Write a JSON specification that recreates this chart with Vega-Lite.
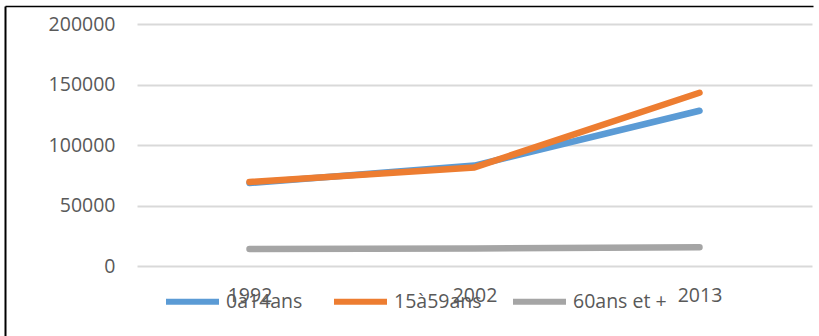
{
  "$schema": "https://vega.github.io/schema/vega-lite/v6.json",
  "autosize": "none",
  "width": 808,
  "height": 330,
  "padding": {"left": 5, "top": 6, "right": 6, "bottom": 0},
  "background": "white",
  "title": {"text": "Fig", "anchor": "start", "frame": "group", "dx": 19, "offset": 6, "baseline": "alphabetic", "fontSize": 20, "fontWeight": "normal", "font": "Open Sans", "color": "black"},
  "config": {
    "view": {"stroke": null},
    "font": "Open Sans"
  },
  "data": {
    "values": [
      {"annee": "1992", "serie": "0à14ans", "valeur": 68600},
      {"annee": "2002", "serie": "0à14ans", "valeur": 83000},
      {"annee": "2013", "serie": "0à14ans", "valeur": 128300},
      {"annee": "1992", "serie": "15à59ans", "valeur": 69400},
      {"annee": "2002", "serie": "15à59ans", "valeur": 81500},
      {"annee": "2013", "serie": "15à59ans", "valeur": 143200},
      {"annee": "1992", "serie": "60ans et +", "valeur": 14050},
      {"annee": "2002", "serie": "60ans et +", "valeur": 14500},
      {"annee": "2013", "serie": "60ans et +", "valeur": 15450}
    ]
  },
  "layer": [
    {
      "mark": {"type": "line", "strokeWidth": 6.5, "strokeCap": "round", "strokeJoin": "round"},
      "encoding": {
        "x": {
          "field": "annee", "type": "ordinal",
          "scale": {"type": "point", "range": [132, 807], "padding": 0.5},
          "axis": {"orient": "bottom", "offset": -70, "title": null, "domain": false, "ticks": false, "grid": false, "labelAngle": 0, "labelPadding": 20, "labelFont": "Open Sans", "labelFontSize": 19.5, "labelColor": "#595959"}
        },
        "y": {
          "field": "valeur", "type": "quantitative",
          "scale": {"domain": [0, 200000], "range": [260, 18], "nice": false},
          "axis": {"orient": "left", "offset": -132, "title": null, "domain": false, "ticks": false, "values": [0, 50000, 100000, 150000, 200000], "format": "d", "labelPadding": 22, "labelFont": "Open Sans", "labelFontSize": 19.5, "labelColor": "#595959", "gridColor": "#D9D9D9", "gridWidth": 2}
        },
        "color": {
          "field": "serie", "type": "nominal",
          "scale": {"domain": ["0à14ans", "15à59ans", "60ans et +"], "range": ["#5B9BD5", "#ED7D31", "#A5A5A5"]},
          "legend": {"orient": "none", "direction": "horizontal", "legendX": 158, "legendY": 266, "title": null, "symbolType": "stroke", "symbolSize": 2809, "symbolStrokeWidth": 6, "labelFont": "Open Sans", "labelFontSize": 19.5, "labelColor": "#595959", "labelOffset": 4, "columnPadding": 19}
        }
      }
    },
    {
      "mark": {"type": "rule", "opacity": 0},
      "encoding": {
        "x": {"datum": 0, "type": "quantitative", "scale": {"domain": [0, 1], "nice": false}, "axis": {"orient": "top", "domain": true, "domainColor": "black", "domainWidth": 1.5, "labels": false, "ticks": false, "grid": false, "title": null}},
        "y": {"datum": 0, "type": "quantitative", "scale": {"domain": [0, 1], "nice": false}, "axis": {"orient": "left", "domain": true, "domainColor": "black", "domainWidth": 2, "labels": false, "ticks": false, "grid": false, "title": null}}
      }
    }
  ],
  "resolve": {"scale": {"x": "independent", "y": "independent"}, "axis": {"x": "independent", "y": "independent"}}
}
